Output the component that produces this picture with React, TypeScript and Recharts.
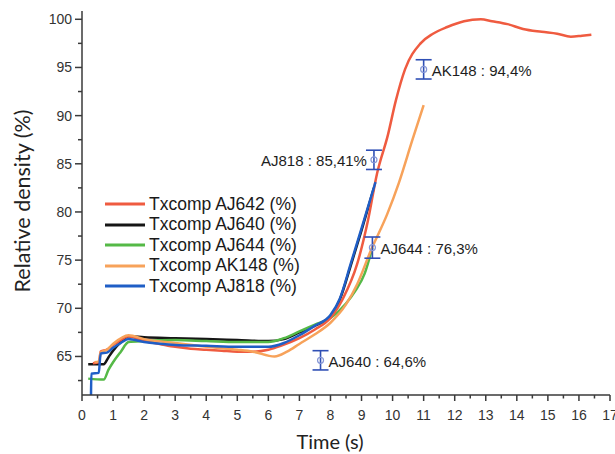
import { ComposedChart, Line, Scatter, ErrorBar, XAxis, YAxis } from "recharts";

// [time (s), relative density (%)]
const AJ642: [number, number][] = [
  [0.35, 64.3], [0.55, 64.4], [0.6, 65.5], [0.8, 65.7], [1.0, 66.2], [1.25, 66.7], [1.5, 67.1],
  [2, 66.6], [2.5, 66.3], [3, 66.0], [3.5, 65.8], [4, 65.7], [4.5, 65.6], [5, 65.5], [5.5, 65.5],
  [6, 65.7], [6.4, 66.1], [7, 66.9], [7.5, 67.8], [8, 69.0], [8.4, 71.0], [8.86, 74.6], [9.2, 79.0],
  [9.5, 84.0], [9.85, 88.0], [10.1, 91.5], [10.4, 94.8], [10.9, 97.5], [11.3, 98.5], [11.76, 99.2],
  [12.3, 99.8], [12.84, 100.0], [13.2, 99.8], [13.7, 99.5], [14.2, 99.0], [14.8, 98.7], [15.3, 98.5],
  [15.74, 98.2], [16.1, 98.3], [16.4, 98.4],
];
const AJ640: [number, number][] = [
  [0.2, 64.2], [0.7, 64.2], [0.85, 64.9], [1.0, 65.6], [1.25, 66.5], [1.5, 67.1], [2, 67.0],
  [3, 66.9], [4, 66.8], [5, 66.7], [6, 66.6], [6.5, 66.8], [7, 67.5], [7.5, 68.2], [8, 69.2],
  [8.3, 70.9], [8.65, 74.4], [9.0, 78.1], [9.4, 82.5],
];
const AJ644: [number, number][] = [
  [0.2, 62.7], [0.7, 62.6], [0.85, 63.6], [1.0, 64.4], [1.25, 65.5], [1.5, 66.5], [2, 66.6],
  [3, 66.7], [4, 66.6], [5, 66.5], [6, 66.5], [6.5, 66.9], [7, 67.6], [7.5, 68.3], [8, 69.0],
  [8.5, 70.5], [8.8, 71.8], [9.1, 73.6], [9.35, 76.3],
];
const AK148: [number, number][] = [
  [0.4, 64.4], [0.55, 64.5], [0.6, 65.4], [0.8, 65.7], [1.0, 66.3], [1.5, 67.2], [2, 66.8],
  [3, 66.4], [4, 66.0], [5, 65.7], [5.5, 65.5], [6.2, 65.0], [6.6, 65.5], [7, 66.3], [7.5, 67.3],
  [8, 68.5], [8.5, 70.4], [8.86, 72.5], [9.3, 76.0], [9.83, 79.8], [10.2, 83.0], [10.63, 87.4],
  [11.0, 91.1],
];
const AJ818: [number, number][] = [
  [0.29, 61.0], [0.3, 63.2], [0.54, 63.3], [0.6, 65.3], [0.8, 65.4], [1.0, 65.9], [1.25, 66.4],
  [1.5, 66.8], [2, 66.5], [3, 66.2], [4, 66.1], [5, 66.0], [6, 66.0], [6.5, 66.4], [7, 67.2],
  [7.5, 68.2], [8, 69.3], [8.3, 71.0], [8.65, 74.6], [9.0, 78.3], [9.45, 83.1],
];

// measured points with error bars
const MARKER_NAMES = ["AJ818", "AJ644", "AJ640", "AK148"];
const MARKER_T = [9.4, 9.35, 7.68, 11.0];
const MARKER_V = [85.41, 76.3, 64.6, 94.8];
const MARKER_ERR = [1.0, 1.1, 1.0, 1.0];
const MARKER_TEXT = ["85,41", "76,3", "64,6", "94,4"];
const LABEL_LEFT = ["AJ818"];

const X_TICKS = Array.from({ length: 35 }, (_, i) => i * 0.5);
const Y_TICKS = Array.from({ length: 16 }, (_, i) => 62.5 + i * 2.5);

const AXIS = "#3a3a3a";
const TICK_FONT = "'Liberation Sans', Arial, sans-serif";

const SERIES = [
  { key: "AJ640", name: "Txcomp AJ640 (%)", color: "#161616", pts: AJ640 },
  { key: "AJ644", name: "Txcomp AJ644 (%)", color: "#55b947", pts: AJ644 },
  { key: "AJ642", name: "Txcomp AJ642 (%)", color: "#ef5b40", pts: AJ642 },
  { key: "AK148", name: "Txcomp AK148 (%)", color: "#f7a25a", pts: AK148 },
  { key: "AJ818", name: "Txcomp AJ818 (%)", color: "#1f5ec6", pts: AJ818 },
];
const LEGEND_ORDER = ["AJ642", "AJ640", "AJ644", "AK148", "AJ818"];

const markers = MARKER_NAMES.map((name, i) => ({
  t: MARKER_T[i],
  v: MARKER_V[i],
  err: MARKER_ERR[i],
  name,
  text: `${name} : ${MARKER_TEXT[i]}%`,
}));

function XTick(props: any) {
  const { x, y, payload } = props;
  const major = Number.isInteger(payload.value);
  return (
    <g>
      <line x1={x} x2={x} y1={y} y2={y + (major ? 6 : 3.5)} stroke={AXIS} strokeWidth={1.5} />
      {major && (
        <text x={x} y={y + 20} textAnchor="middle" dominantBaseline="central"
          fontFamily={TICK_FONT} fontSize={14} fill="#333">
          {payload.value}
        </text>
      )}
    </g>
  );
}

function YTick(props: any) {
  const { x, y, payload } = props;
  const major = payload.value % 5 === 0;
  return (
    <g>
      <line x1={x} x2={x - (major ? 7 : 4)} y1={y} y2={y} stroke={AXIS} strokeWidth={1.5} />
      {major && (
        <text x={x - 10} y={y} textAnchor="end" dominantBaseline="central"
          fontFamily={TICK_FONT} fontSize={14} fill="#333">
          {payload.value}
        </text>
      )}
    </g>
  );
}

function MarkerShape(props: any) {
  const { cx, cy, payload } = props;
  const left = LABEL_LEFT.includes(payload.name);
  return (
    <g>
      <circle cx={cx} cy={cy} r={3} fill="none" stroke="#8596d6" strokeWidth={1.2} />
      <text x={left ? cx - 7 : cx + 8} y={cy + 1} textAnchor={left ? "end" : "start"}
        dominantBaseline="central" fontFamily={TICK_FONT} fontSize={15} fill="#1e1e1e">
        {payload.text}
      </text>
    </g>
  );
}

export default function App() {
  return (
    <div style={{ position: "absolute", left: 0, top: 0, width: 615, height: 454, background: "#fff" }}>
      <ComposedChart width={615} height={454} margin={{ top: 11, right: 5, bottom: 0, left: 0 }}>
        <XAxis
          dataKey="t"
          type="number"
          domain={[0, 17]}
          ticks={X_TICKS}
          interval={0}
          tickSize={0}
          tickMargin={0}
          tick={<XTick />}
          tickLine={false}
          height={59}
          axisLine={{ stroke: AXIS, strokeWidth: 1.5 }}
          allowDuplicatedCategory={false}
          label={{
            content: ({ viewBox }: any) => (
              <text x={viewBox.x + viewBox.width / 2 - 16} y={viewBox.y + 46} textAnchor="middle"
                dominantBaseline="central" fontFamily="Lato, sans-serif" fontSize={20} fill="#222">
                Time (s)
              </text>
            ),
          }}
        />
        <YAxis
          type="number"
          domain={[61, 100.86]}
          ticks={Y_TICKS}
          interval={0}
          tickSize={0}
          tickMargin={0}
          tick={<YTick />}
          tickLine={false}
          width={82}
          axisLine={{ stroke: AXIS, strokeWidth: 1.5 }}
          label={{
            content: ({ viewBox }: any) => {
              const cx = viewBox.x + 22;
              const cy = viewBox.y + viewBox.height / 2 - 2;
              return (
                <text x={cx} y={cy} transform={`rotate(-90 ${cx} ${cy})`} textAnchor="middle"
                  dominantBaseline="central" fontFamily="Lato, sans-serif" fontSize={21.5} fill="#222">
                  Relative density (%)
                </text>
              );
            },
          }}
        />
        {SERIES.map((s) => (
          <Line
            key={s.key}
            data={s.pts.map(([t, v]) => ({ t, v }))}
            dataKey="v"
            name={s.name}
            type="monotone"
            stroke={s.color}
            strokeWidth={2.5}
            dot={false}
            activeDot={false}
            isAnimationActive={false}
          />
        ))}
        <Scatter data={markers} dataKey="v" shape={<MarkerShape />} isAnimationActive={false}>
          <ErrorBar dataKey="err" direction="y" width={8} stroke="#2f4fb5" strokeWidth={1.6} />
        </Scatter>
      </ComposedChart>
      <div style={{ position: "absolute", left: 105, top: 194, fontFamily: TICK_FONT, fontSize: 17.5, color: "#1a1a1a" }}>
        {LEGEND_ORDER.map((k) => {
          const s = SERIES.find((x) => x.key === k)!;
          return (
            <div key={k} style={{ display: "flex", alignItems: "center", height: 20.5 }}>
              <svg width={40} height={6}>
                <line x1={0} x2={40} y1={3} y2={3} stroke={s.color} strokeWidth={3} />
              </svg>
              <span style={{ marginLeft: 4, whiteSpace: "nowrap" }}>{s.name}</span>
            </div>
          );
        })}
      </div>
    </div>
  );
}
